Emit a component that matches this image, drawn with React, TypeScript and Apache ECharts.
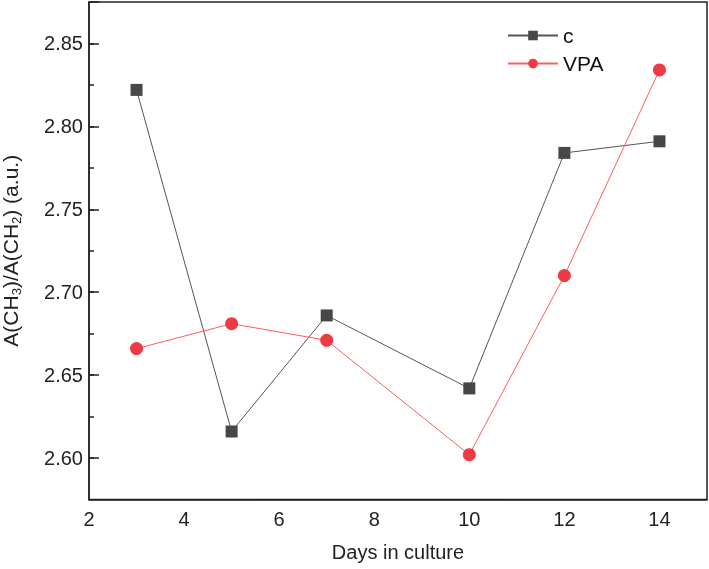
import React, { useEffect, useRef } from "react";
import * as echarts from "echarts";

const days = [3, 5, 7, 10, 12, 14];
const cValues = [2.822, 2.616, 2.686, 2.642, 2.784, 2.791];
const vpaValues = [2.666, 2.681, 2.671, 2.602, 2.710, 2.834];
const xTickLabels = [2, 4, 6, 8, 10, 12, 14];

const FONT = "Liberation Sans, Arial, sans-serif";
const AXIS_COLOR = "#222";

// axis ranges
const X_MIN = 2;
const X_MAX = 15;
const Y_MIN = 2.575;
const Y_MAX = 2.875;
const Y_MAJOR_START = 2.6;

// layout
const GRID_LEFT = 89;
const GRID_RIGHT = 2;
const GRID_TOP = 2;
const GRID_BOTTOM = 69.5;
const CHART_H = 569;

export default function App() {
  const ref = useRef<HTMLDivElement>(null);
  useEffect(() => {
    if (!ref.current) return;
    const chart = echarts.init(ref.current, null, { renderer: "svg" });
    const toPairs = (vals: number[]) => days.map((d, i) => [d, vals[i]]);
    const boxLine = { show: true, lineStyle: { color: AXIS_COLOR, width: 1.5 } };
    const isMajor = (v: number) => Math.round(v * 1000) % 50 === 0;
    // second (overlay) grid whose bottom sits on the first major tick value, used only for long major ticks
    const plotH = CHART_H - GRID_TOP - GRID_BOTTOM;
    const majorGridBottom =
      GRID_BOTTOM + ((Y_MAJOR_START - Y_MIN) / (Y_MAX - Y_MIN)) * plotH;
    chart.setOption({
      animation: false,
      textStyle: { fontFamily: FONT },
      grid: [
        {
          left: GRID_LEFT,
          right: GRID_RIGHT,
          top: GRID_TOP,
          bottom: GRID_BOTTOM,
          outerBoundsMode: "none",
          containLabel: false,
          show: true,
          borderColor: AXIS_COLOR,
          borderWidth: 1.5,
        },
        {
          left: GRID_LEFT,
          right: GRID_RIGHT,
          top: GRID_TOP,
          bottom: majorGridBottom,
          outerBoundsMode: "none",
          containLabel: false,
          show: false,
        },
      ],
      legend: {
        left: 502,
        top: 20,
        orient: "vertical",
        itemWidth: 50,
        itemHeight: 12,
        itemGap: 7,
        textStyle: { fontSize: 21, color: "#111", fontFamily: FONT },
        data: ["c", "VPA"],
      },
      xAxis: [
        {
          type: "value",
          gridIndex: 0,
          min: X_MIN,
          max: X_MAX,
          axisLine: boxLine,
          axisTick: { show: false },
          splitLine: { show: false },
          axisLabel: {
            customValues: xTickLabels,
            fontSize: 20,
            color: AXIS_COLOR,
            margin: 9,
            fontFamily: FONT,
          },
          name: "Days in culture",
          nameLocation: "middle",
          nameGap: 42,
          nameTextStyle: { fontSize: 20, color: AXIS_COLOR, fontFamily: FONT },
        },
        {
          type: "value",
          gridIndex: 1,
          min: X_MIN,
          max: X_MAX,
          show: false,
        },
      ],
      yAxis: [
        {
          type: "value",
          gridIndex: 0,
          min: Y_MIN,
          max: Y_MAX,
          interval: 0.025,
          axisLine: boxLine,
          axisTick: {
            show: true,
            inside: true,
            length: 5,
            lineStyle: { color: AXIS_COLOR, width: 1.5 },
          },
          splitLine: { show: false },
          axisLabel: {
            formatter: (v: number) => (isMajor(v) ? v.toFixed(2) : ""),
            showMinLabel: false,
            showMaxLabel: false,
            fontSize: 20,
            color: AXIS_COLOR,
            margin: 6,
            fontFamily: FONT,
          },
          name: "{n|A(CH}{s|3}{n|)/A(CH}{s|2}{n|) (a.u.)}",
          nameLocation: "middle",
          nameGap: 66,
          nameTextStyle: {
            color: AXIS_COLOR,
            fontFamily: FONT,
            rich: {
              n: { fontSize: 21, color: AXIS_COLOR, fontFamily: FONT, lineHeight: 26 },
              s: {
                fontSize: 13,
                color: AXIS_COLOR,
                fontFamily: FONT,
                lineHeight: 26,
                verticalAlign: "bottom",
                padding: [12, 0, 0, 0],
              },
            },
          },
        },
        {
          type: "value",
          gridIndex: 1,
          min: Y_MAJOR_START,
          max: Y_MAX,
          interval: 0.05,
          axisLine: { show: false },
          axisTick: {
            show: true,
            inside: true,
            length: 10,
            lineStyle: { color: AXIS_COLOR, width: 1.5 },
          },
          axisLabel: { show: false },
          splitLine: { show: false },
        },
      ],
      series: [
        {
          name: "c",
          type: "line",
          xAxisIndex: 0,
          yAxisIndex: 0,
          data: toPairs(cValues),
          symbol: "rect",
          symbolSize: 12,
          itemStyle: { color: "#474747" },
          lineStyle: { color: "#555", width: 1 },
        },
        {
          name: "VPA",
          type: "line",
          xAxisIndex: 0,
          yAxisIndex: 0,
          data: toPairs(vpaValues),
          symbol: "circle",
          symbolSize: 13,
          itemStyle: { color: "#ee3a44" },
          lineStyle: { color: "#ff5c5c", width: 1 },
        },
      ],
    });
    return () => chart.dispose();
  }, []);
  return (
    <div
      ref={ref}
      style={{ position: "fixed", left: 0, top: 0, width: 709, height: CHART_H }}
    />
  );
}
